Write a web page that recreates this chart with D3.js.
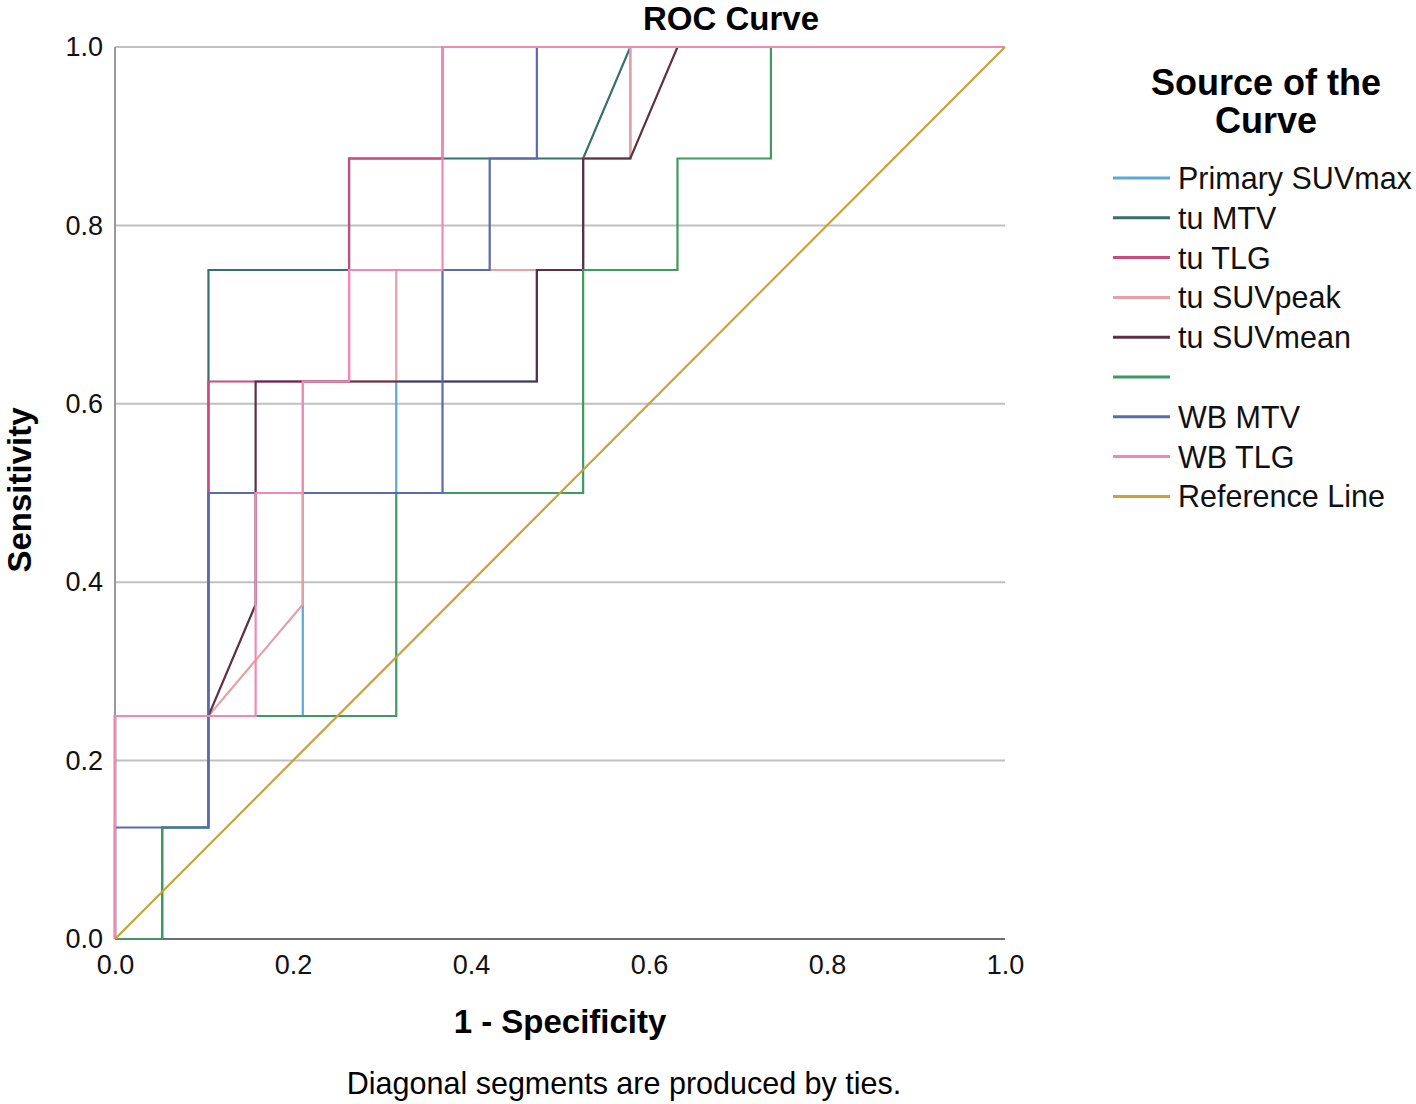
<!DOCTYPE html>
<html>
<head>
<meta charset="utf-8">
<script src="https://cdn.jsdelivr.net/npm/d3@7"></script>
<style>
  html, body { margin: 0; padding: 0; background: #fff; }
  svg { display: block; font-family: "Liberation Sans", Arial, sans-serif; }
</style>
</head>
<body>
<div id="chart"></div>
<script>
// ---- Data (1 - specificity / sensitivity vertices) ----
const seriesNames = ['Primary SUVmax', 'tu MTV', 'tu TLG', 'tu SUVpeak', 'tu SUVmean', '', 'WB MTV', 'WB TLG'];
const seriesColors = ['#58a8d8', '#3a6e6a', '#c84c7e', '#e5a0a8', '#5c3044', '#3f9a62', '#5b6aa8', '#f08ab4'];

const primarySuvmaxX = [0, 0, 0.211, 0.211, 0.316, 0.316, 0.474, 0.474, 0.526, 0.526, 0.579, 0.579, 1];
const primarySuvmaxY = [0, 0.25, 0.25, 0.5, 0.5, 0.625, 0.625, 0.75, 0.75, 0.875, 0.875, 1, 1];

const tuMtvX = [0, 0.053, 0.053, 0.105, 0.105, 0.263, 0.263, 0.526, 0.579, 1];
const tuMtvY = [0, 0, 0.125, 0.125, 0.75, 0.75, 0.875, 0.875, 1, 1];

const tuTlgX = [0, 0, 0.105, 0.105, 0.263, 0.263, 0.368, 0.368, 1];
const tuTlgY = [0, 0.25, 0.25, 0.625, 0.625, 0.875, 0.875, 1, 1];

const tuSuvpeakX = [0, 0, 0.105, 0.211, 0.211, 0.316, 0.316, 0.526, 0.526, 0.579, 0.579, 1];
const tuSuvpeakY = [0, 0.25, 0.25, 0.375, 0.625, 0.625, 0.75, 0.75, 0.875, 0.875, 1, 1];

const tuSuvmeanX = [0, 0, 0.105, 0.158, 0.158, 0.474, 0.474, 0.526, 0.526, 0.579, 0.632, 1];
const tuSuvmeanY = [0, 0.25, 0.25, 0.375, 0.625, 0.625, 0.75, 0.75, 0.875, 0.875, 1, 1];

const unnamedX = [0, 0.053, 0.053, 0.105, 0.105, 0.316, 0.316, 0.526, 0.526, 0.632, 0.632, 0.737, 0.737, 1];
const unnamedY = [0, 0, 0.125, 0.125, 0.25, 0.25, 0.5, 0.5, 0.75, 0.75, 0.875, 0.875, 1, 1];

const wbMtvX = [0, 0, 0.105, 0.105, 0.368, 0.368, 0.421, 0.421, 0.474, 0.474, 1];
const wbMtvY = [0, 0.125, 0.125, 0.5, 0.5, 0.75, 0.75, 0.875, 0.875, 1, 1];

const wbTlgX = [0, 0, 0.158, 0.158, 0.211, 0.211, 0.263, 0.263, 0.368, 0.368, 1];
const wbTlgY = [0, 0.25, 0.25, 0.5, 0.5, 0.625, 0.625, 0.75, 0.75, 1, 1];

const referenceX = [0, 1];
const referenceY = [0, 1];

const tickValues = [0, 0.2, 0.4, 0.6, 0.8, 1.0];

const curves = [
  [primarySuvmaxX, primarySuvmaxY],
  [tuMtvX, tuMtvY],
  [tuTlgX, tuTlgY],
  [tuSuvpeakX, tuSuvpeakY],
  [tuSuvmeanX, tuSuvmeanY],
  [unnamedX, unnamedY],
  [wbMtvX, wbMtvY],
  [wbTlgX, wbTlgY]
];

// ---- Layout ----
const width = 1416, height = 1104;
const plot = { left: 115, right: 1005, top: 47, bottom: 939 };

const svg = d3.select('#chart').append('svg')
  .attr('width', width).attr('height', height);

const x = d3.scaleLinear().domain([0, 1]).range([plot.left, plot.right]);
const y = d3.scaleLinear().domain([0, 1]).range([plot.bottom, plot.top]);
const fmt = d3.format('.1f');

// ---- Grid ----
svg.append('g')
  .selectAll('line').data(tickValues.filter(d => d > 0)).join('line')
  .attr('x1', plot.left).attr('x2', plot.right)
  .attr('y1', d => y(d)).attr('y2', d => y(d))
  .attr('stroke', '#c0c0c0').attr('stroke-width', 2);

// ---- Axes ----
svg.append('g')
  .attr('transform', `translate(${plot.left},0)`)
  .call(d3.axisLeft(y).tickValues(tickValues).tickSize(0).tickPadding(12).tickFormat(fmt))
  .call(g => g.select('.domain').remove())
  .call(g => g.selectAll('text').attr('font-size', '27px').attr('fill', '#111')
    .attr('font-family', '"Liberation Sans", Arial, sans-serif'));

svg.append('g')
  .attr('transform', `translate(0,${plot.bottom})`)
  .call(d3.axisBottom(x).tickValues(tickValues).tickSize(0).tickPadding(16).tickFormat(fmt))
  .call(g => g.select('.domain').remove())
  .call(g => g.selectAll('text').attr('font-size', '27px').attr('fill', '#111')
    .attr('font-family', '"Liberation Sans", Arial, sans-serif'));

svg.append('line')
  .attr('x1', plot.left).attr('x2', plot.left)
  .attr('y1', plot.top).attr('y2', plot.bottom)
  .attr('stroke', '#9a9a9a').attr('stroke-width', 2);

svg.append('line')
  .attr('x1', plot.left).attr('x2', plot.right)
  .attr('y1', plot.bottom).attr('y2', plot.bottom)
  .attr('stroke', '#6e6e6e').attr('stroke-width', 2);

// ---- Curves ----
const line = d3.line().x(d => x(d[0])).y(d => y(d[1]));

svg.append('g').attr('fill', 'none')
  .selectAll('path').data(curves).join('path')
  .attr('d', ([xs, ys]) => line(xs.map((v, i) => [v, ys[i]])))
  .attr('stroke', (d, i) => seriesColors[i])
  .attr('stroke-width', 2.2)
  .attr('stroke-linejoin', 'miter');

svg.append('path')
  .attr('d', line(referenceX.map((v, i) => [v, referenceY[i]])))
  .attr('fill', 'none')
  .attr('stroke', '#c9a23a')
  .attr('stroke-width', 2.2);

// ---- Titles ----
svg.append('text')
  .attr('x', 731).attr('y', 30)
  .attr('text-anchor', 'middle')
  .attr('font-size', '33px').attr('font-weight', 700)
  .text('ROC Curve');

svg.append('text')
  .attr('x', (plot.left + plot.right) / 2).attr('y', 1033)
  .attr('text-anchor', 'middle')
  .attr('font-size', '33px').attr('font-weight', 700)
  .text('1 - Specificity');

svg.append('text')
  .attr('transform', `translate(31,${(plot.top + plot.bottom) / 2 - 3}) rotate(-90)`)
  .attr('text-anchor', 'middle')
  .attr('font-size', '33px').attr('font-weight', 700)
  .text('Sensitivity');

svg.append('text')
  .attr('x', 624).attr('y', 1094)
  .attr('text-anchor', 'middle')
  .attr('font-size', '30.5px')
  .text('Diagonal segments are produced by ties.');

// ---- Legend ----
const legend = svg.append('g');

legend.append('text')
  .attr('x', 1266).attr('y', 95)
  .attr('text-anchor', 'middle')
  .attr('font-size', '36px').attr('font-weight', 700)
  .selectAll('tspan').data(['Source of the', 'Curve']).join('tspan')
  .attr('x', 1266).attr('dy', (d, i) => i ? 38 : 0)
  .text(d => d);

const legendItems = seriesNames.map((name, i) => ({ name, color: seriesColors[i] }))
  .concat([{ name: 'Reference Line', color: '#c9a23a' }]);

const rows = legend.selectAll('g.row').data(legendItems).join('g')
  .attr('class', 'row')
  .attr('transform', (d, i) => `translate(1113,${178 + i * 39.8})`);

rows.append('line')
  .attr('x1', 0).attr('x2', 57)
  .attr('stroke', d => d.color).attr('stroke-width', 3);

rows.append('text')
  .attr('x', 65).attr('y', 11)
  .attr('font-size', '30.5px')
  .attr('fill', '#111')
  .text(d => d.name);
</script>
</body>
</html>
